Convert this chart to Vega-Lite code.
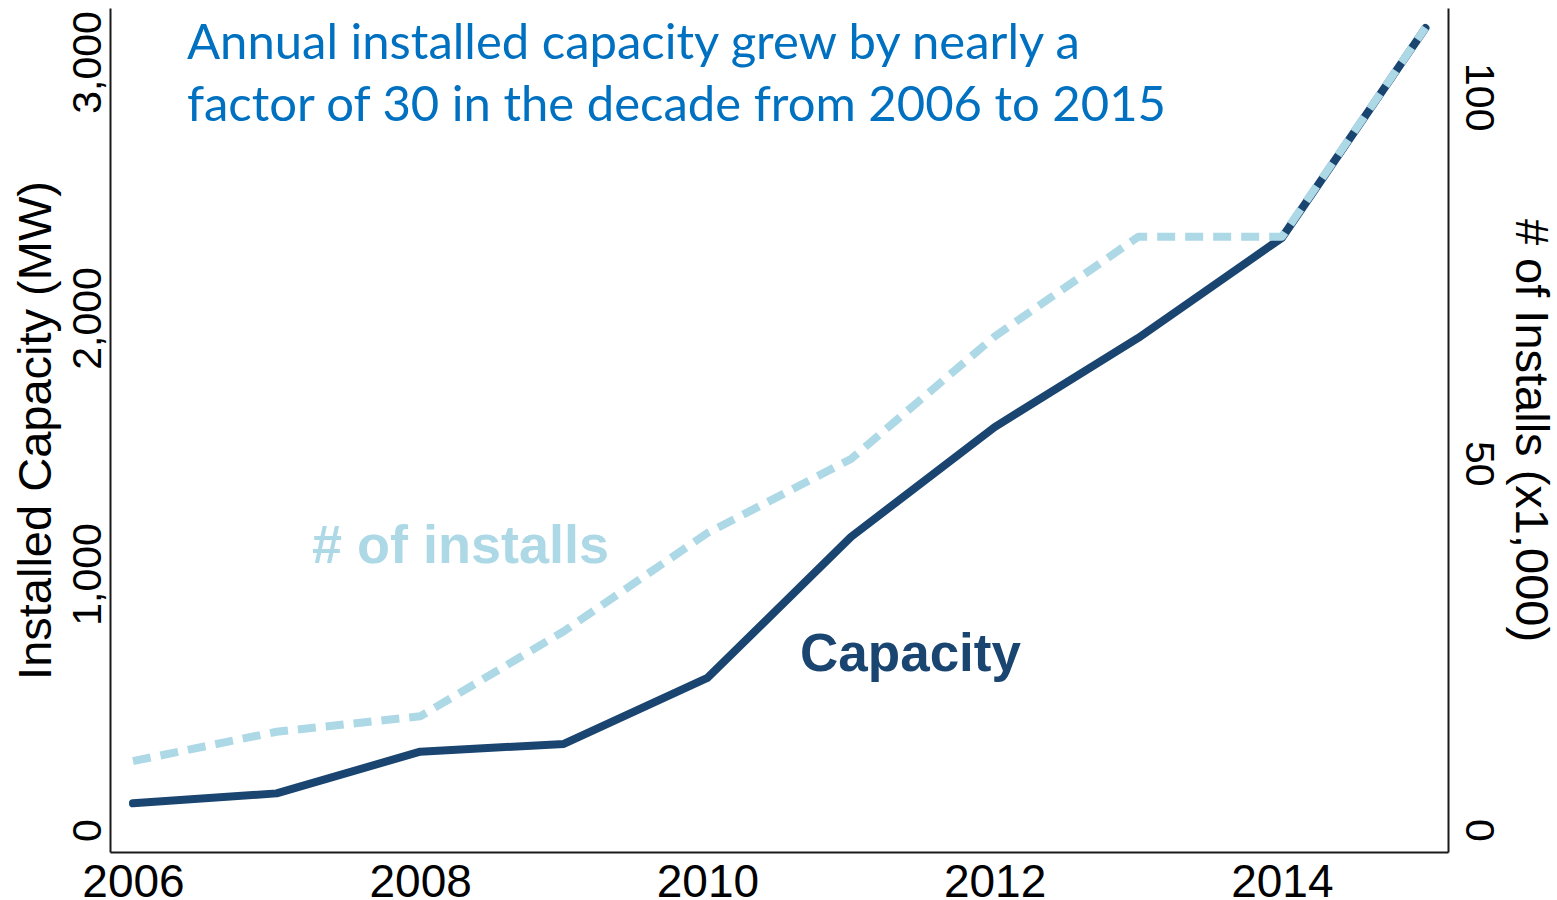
{
  "$schema": "https://vega.github.io/schema/vega-lite/v6.json",
  "width": 1338,
  "height": 844,
  "autosize": {"type": "none"},
  "padding": {"left": 110, "top": 8, "right": 109, "bottom": 48},
  "background": "white",
  "config": {
    "view": {"stroke": null},
    "axis": {
      "grid": false,
      "ticks": false,
      "tickSize": 0,
      "domainColor": "#1a1a1a",
      "domainWidth": 2,
      "labelColor": "#000000",
      "titleColor": "#000000",
      "labelFont": "Liberation Sans",
      "titleFont": "Liberation Sans",
      "titleFontWeight": "normal",
      "labelOverlap": false,
      "labelFlush": false,
      "labelBound": false
    }
  },
  "datasets": {
    "series": [
      {"year": 2006, "capacity": 104, "installs": 9.4},
      {"year": 2007, "capacity": 143, "installs": 13.4},
      {"year": 2008, "capacity": 306, "installs": 15.5},
      {"year": 2009, "capacity": 336, "installs": 27.1},
      {"year": 2010, "capacity": 594, "installs": 40.5},
      {"year": 2011, "capacity": 1145, "installs": 50.6},
      {"year": 2012, "capacity": 1574, "installs": 67.3},
      {"year": 2013, "capacity": 1922, "installs": 80.9},
      {"year": 2014, "capacity": 2313, "installs": 80.9},
      {"year": 2015, "capacity": 3133, "installs": 109.4}
    ],
    "notes": [
      {"kind": "headline", "x": 2006.376, "y": 3012, "text": "Annual installed capacity grew by nearly a"},
      {"kind": "headline", "x": 2006.376, "y": 2770, "text": "factor of 30 in the decade from 2006 to 2015"},
      {"kind": "installs", "x": 2007.247, "y": 1043, "text": "# of installs"},
      {"kind": "capacity", "x": 2010.645, "y": 621, "text": "Capacity"}
    ]
  },
  "layer": [
    {
      "layer": [
        {
          "data": {"name": "series"},
          "mark": {"type": "line", "color": "#1a4570", "strokeWidth": 8, "strokeCap": "round", "strokeJoin": "round"},
          "encoding": {
            "x": {
              "field": "year", "type": "quantitative",
              "scale": {"domain": [2005.84, 2015.157], "nice": false, "zero": false},
              "axis": {"title": null, "values": [2006, 2008, 2010, 2012, 2014], "format": "d", "labelFontSize": 46, "labelPadding": 8}
            },
            "y": {
              "field": "capacity", "type": "quantitative",
              "scale": {"domain": [-86, 3211], "nice": false, "zero": false},
              "axis": {
                "orient": "left",
                "title": "Installed Capacity (MW)",
                "values": [0, 1000, 2000, 3000],
                "format": ",d",
                "labelFontSize": 41,
                "labelAngle": -90,
                "labelAlign": "center",
                "labelBaseline": "alphabetic",
                "labelPadding": 10,
                "titleFontSize": 47,
                "titleAngle": -90,
                "titleAlign": "center",
                "titleBaseline": "alphabetic",
                "titleX": -60,
                "titleY": 422
              }
            }
          }
        },
        {
          "data": {"name": "notes"},
          "transform": [{"filter": "datum.kind === 'headline'"}],
          "mark": {"type": "text", "font": "Lato", "fontSize": 49, "color": "#0070c0", "align": "left", "baseline": "alphabetic"},
          "encoding": {
            "x": {"field": "x", "type": "quantitative"},
            "y": {"field": "y", "type": "quantitative"},
            "text": {"field": "text", "type": "nominal"}
          }
        },
        {
          "data": {"name": "notes"},
          "transform": [{"filter": "datum.kind === 'installs'"}],
          "mark": {"type": "text", "font": "Liberation Sans", "fontWeight": "bold", "fontSize": 54, "color": "#add8e6", "align": "left", "baseline": "alphabetic"},
          "encoding": {
            "x": {"field": "x", "type": "quantitative"},
            "y": {"field": "y", "type": "quantitative"},
            "text": {"field": "text", "type": "nominal"}
          }
        },
        {
          "data": {"name": "notes"},
          "transform": [{"filter": "datum.kind === 'capacity'"}],
          "mark": {"type": "text", "font": "Liberation Sans", "fontWeight": "bold", "fontSize": 53, "color": "#1a4570", "align": "left", "baseline": "alphabetic"},
          "encoding": {
            "x": {"field": "x", "type": "quantitative"},
            "y": {"field": "y", "type": "quantitative"},
            "text": {"field": "text", "type": "nominal"}
          }
        }
      ]
    },
    {
      "data": {"name": "series"},
      "mark": {"type": "line", "color": "#add8e6", "strokeWidth": 8, "strokeDash": [18, 10], "strokeJoin": "round"},
      "encoding": {
        "x": {"field": "year", "type": "quantitative"},
        "y": {
          "field": "installs", "type": "quantitative",
          "scale": {"domain": [-3, 112.1], "nice": false, "zero": false},
          "axis": {
            "orient": "right",
            "title": "# of Installs (x1,000)",
            "values": [0, 50, 100],
            "format": "d",
            "labelFontSize": 41,
            "labelAngle": 90,
            "labelAlign": "center",
            "labelBaseline": "alphabetic",
            "labelPadding": 17,
            "titleFontSize": 47,
            "titleAngle": 90,
            "titleAlign": "center",
            "titleBaseline": "alphabetic",
            "titleX": 67,
            "titleY": 422
          }
        }
      }
    }
  ],
  "resolve": {"scale": {"y": "independent"}}
}
